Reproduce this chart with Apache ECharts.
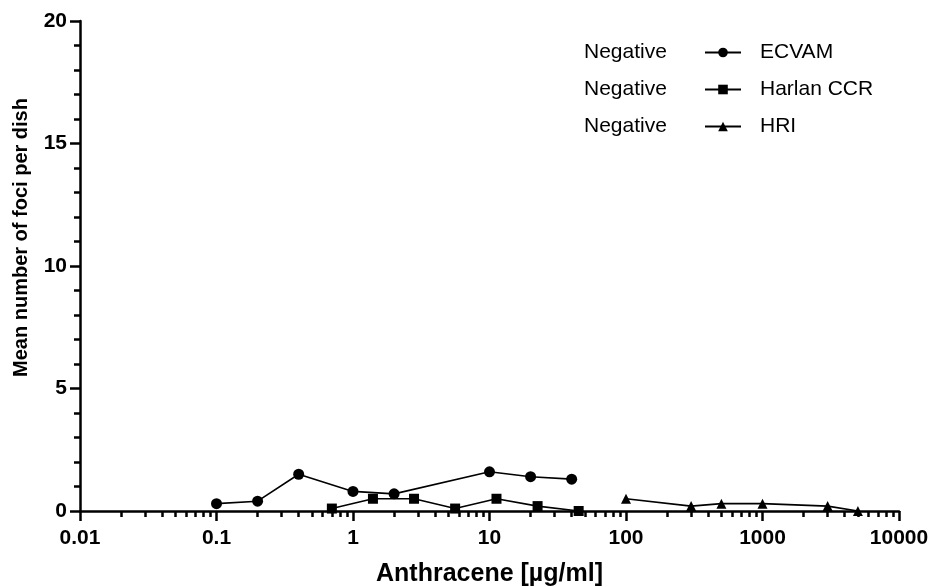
<!DOCTYPE html>
<html>
<head>
<meta charset="utf-8">
<script src="https://cdn.jsdelivr.net/npm/echarts@6/dist/echarts.min.js"></script>
<style>
  html, body { margin: 0; padding: 0; background: #fff; }
  #chart { width: 933px; height: 587px; }
</style>
</head>
<body>
<div id="chart"></div>
<script>
// ---- data ----
var ecvamX = [0.1, 0.2, 0.4, 1, 2, 10, 20, 40];
var ecvamY = [0.3, 0.4, 1.5, 0.8, 0.7, 1.6, 1.4, 1.3];
var harlanX = [0.7, 1.4, 2.8, 5.6, 11.25, 22.5, 45];
var harlanY = [0.1, 0.5, 0.5, 0.1, 0.5, 0.2, 0.0];
var hriX = [100, 300, 500, 1000, 3000, 5000];
var hriY = [0.5, 0.2, 0.3, 0.3, 0.2, 0.0];

var seriesNames = ['ECVAM', 'Harlan CCR', 'HRI'];
var seriesResults = ['Negative', 'Negative', 'Negative'];
var xTickLabels = ['0.01', '0.1', '1', '10', '100', '1000', '10000'];
var yTickLabels = ['0', '5', '10', '15', '20'];
var xTitle = 'Anthracene [µg/ml]';
var yTitle = 'Mean number of foci per dish';

// minor tick positions: 2..9 within each decade
var decades = [0.01, 0.1, 1, 10, 100, 1000];
var minorMultipliers = [2, 3, 4, 5, 6, 7, 8, 9];
var minorVals = [];
decades.forEach(function (d) {
  minorMultipliers.forEach(function (m) { minorVals.push(+(d * m).toPrecision(6)); });
});

function pairs(xs, ys) { return xs.map(function (x, i) { return [x, ys[i]]; }); }

var FONT = "'Liberation Sans', Arial, Helvetica, sans-serif";
var chart = echarts.init(document.getElementById('chart'), null, { renderer: 'canvas' });

var xMin = +xTickLabels[0], xMax = +xTickLabels[xTickLabels.length - 1];
var yMin = +yTickLabels[0], yMax = +yTickLabels[yTickLabels.length - 1];

var option = {
  animation: false,
  backgroundColor: '#ffffff',
  grid: { left: 80, right: 34, top: 21, bottom: 76, containLabel: false, outerBoundsMode: 'none' },
  legend: {
    orient: 'vertical',
    left: 704,
    top: 42,
    padding: 0,
    itemWidth: 36,
    itemHeight: 12,
    itemGap: 16,
    data: seriesNames,
    textStyle: { fontFamily: FONT, fontSize: 21, color: '#000', padding: [0, 0, 0, 14] }
  },
  xAxis: [{
    type: 'log',
    logBase: 10,
    min: xMin,
    max: xMax,
    position: 'bottom',
    name: xTitle,
    nameLocation: 'middle',
    nameGap: 51,
    nameTextStyle: { fontFamily: FONT, fontSize: 25, fontWeight: 'bold', color: '#000' },
    axisLine: { show: true, lineStyle: { color: '#000', width: 2.5 } },
    axisTick: { show: true, inside: false, length: 10, lineStyle: { color: '#000', width: 2.5 } },
    axisLabel: {
      show: true, margin: 17,
      fontFamily: FONT, fontSize: 21, fontWeight: 'bold', color: '#000',
      formatter: function (v) { return String(+(+v).toPrecision(6)); }
    },
    splitLine: { show: false },
    minorTick: { show: false }
  }, {
    type: 'log',
    logBase: 10,
    min: xMin,
    max: xMax,
    position: 'bottom',
    axisLine: { show: false },
    axisTick: { show: true, inside: false, length: 6, customValues: minorVals, lineStyle: { color: '#000', width: 2.5 } },
    axisLabel: { show: false },
    splitLine: { show: false }
  }],
  yAxis: {
    type: 'value',
    min: yMin,
    max: yMax,
    interval: 5,
    axisLine: { show: true, lineStyle: { color: '#000', width: 2.5 } },
    axisTick: { show: true, inside: false, length: 10, lineStyle: { color: '#000', width: 2.5 } },
    minorTick: { show: true, splitNumber: 5, length: 6, lineStyle: { color: '#000', width: 2.5 } },
    axisLabel: { margin: 13, fontFamily: FONT, fontSize: 21, fontWeight: 'bold', color: '#000' },
    splitLine: { show: false },
    minorSplitLine: { show: false }
  },
  graphic: [
    {
      type: 'text', x: 21, y: 237.5, rotation: Math.PI / 2,
      style: { text: yTitle, fontFamily: FONT, fontSize: 20, fontWeight: 'bold', fill: '#000', align: 'center', verticalAlign: 'middle' }
    }
  ].concat(seriesResults.map(function (t, i) {
    return {
      type: 'text', x: 584, y: 52 + i * 37,
      style: { text: t, fontFamily: FONT, fontSize: 21, fill: '#000', align: 'left', verticalAlign: 'middle' }
    };
  })),
  series: [
    {
      name: seriesNames[0], type: 'line', xAxisIndex: 0, data: pairs(ecvamX, ecvamY),
      symbol: 'circle', symbolSize: 11, showAllSymbol: true,
      lineStyle: { color: '#000', width: 1.6 }, itemStyle: { color: '#000' }
    },
    {
      name: seriesNames[1], type: 'line', xAxisIndex: 0, data: pairs(harlanX, harlanY),
      symbol: 'rect', symbolSize: 10, showAllSymbol: true,
      lineStyle: { color: '#000', width: 1.6 }, itemStyle: { color: '#000' }
    },
    {
      name: seriesNames[2], type: 'line', xAxisIndex: 0, data: pairs(hriX, hriY),
      symbol: 'triangle', symbolSize: 10, showAllSymbol: true,
      lineStyle: { color: '#000', width: 1.6 }, itemStyle: { color: '#000' }
    }
  ]
};
chart.setOption(option);
</script>
</body>
</html>
